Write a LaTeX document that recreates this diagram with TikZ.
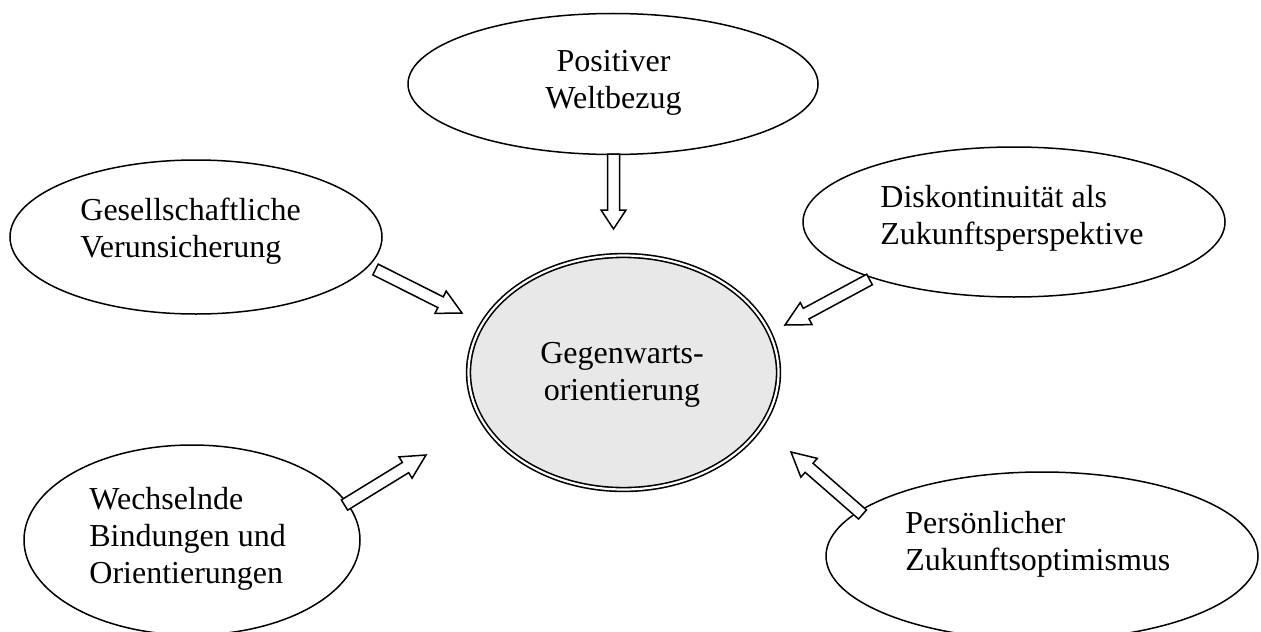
\documentclass[tikz,border=0pt]{standalone}
\usepackage{fontspec}
\setmainfont{Liberation Serif}
\usetikzlibrary{shapes.geometric,calc}

\tikzset{
  bubble/.style={ellipse, draw, line width=0.75pt, fill=white, inner sep=0pt},
  core/.style={ellipse, draw, line width=0.8pt, double=white, double distance=1.1pt,
               fill=black!9, inner sep=0pt},
  lbl/.style={inner sep=0pt, font=\fontsize{16}{18.5}\selectfont},
  arrowbody/.style={draw, line width=0.75pt, fill=white, line join=miter},
}

% hollow block arrow from tail coordinate #2 to tip coordinate #3, head length #1
\newcommand\hollowarrow[3][11pt]{%
  \coordinate (#2-base) at ($(#3)!#1!(#2)$);
  \draw[arrowbody]
    ($(#2)!3pt!90:(#3)$) -- ($(#2-base)!3pt!90:(#3)$) -- ($(#2-base)!6.25pt!90:(#3)$)
    -- (#3)
    -- ($(#2-base)!6.25pt!-90:(#3)$) -- ($(#2-base)!3pt!-90:(#3)$) -- ($(#2)!3pt!-90:(#3)$)
    -- cycle;}

\begin{document}
\begin{tikzpicture}[x=0.5pt,y=-0.5pt]
\useasboundingbox (0,0) rectangle (1261,631);
\clip (0,0) rectangle (1261,631);

% outer ellipses
\node[bubble, minimum width=205pt, minimum height=70.5pt] (welt) at (613,84) {};
\node[bubble, minimum width=186pt, minimum height=77pt] (gesell) at (196,237) {};
\node[bubble, minimum width=211pt, minimum height=75pt] (disk) at (1014,222) {};
\node[bubble, minimum width=168pt, minimum height=95pt] (wechsel) at (192,540) {};
\node[bubble, minimum width=216pt, minimum height=84pt] (optim) at (1042,556) {};

% central ellipse
\node[core, minimum width=155pt, minimum height=117pt] (gegen) at (623.5,372.5) {};

% labels
\node[lbl, align=center, anchor=north] (weltT) at (613.5,45.1) {\strut Positiver\\\strut Weltbezug};
\node[lbl, align=left, anchor=north west] (gesellT) at (80,194.1) {\strut Gesellschaftliche\\\strut Verunsicherung};
\node[lbl, align=left, anchor=north west] (diskT) at (880,181.1) {\strut Diskontinuität als\\\strut Zukunftsperspektive};
\node[lbl, align=center, anchor=north] (gegenT) at (622,337.1) {\strut Gegenwarts-\\\strut orientierung};
\node[lbl, align=left, anchor=north west] (wechselT) at (89,483.1) {\strut Wechselnde\\\strut Bindungen und\\\strut Orientierungen};
\node[lbl, align=left, anchor=north west] (optimT) at (905,507.1) {\strut Persönlicher\\\strut Zukunftsoptimismus};

% arrow ends
\coordinate (aW) at (613.5,154);   \coordinate (aWtip) at (613.5,229);
\coordinate (aG) at (375.5,269.5); \coordinate (aGtip) at (462,313);
\coordinate (aB) at (344.5,505);   \coordinate (aBtip) at (426,455);
\coordinate (aO) at (862.5,514.5); \coordinate (aOtip) at (791,452);
\coordinate (aD) at (869.5,279.5); \coordinate (aDtip) at (785,325);

\hollowarrow[9.5pt]{aW}{aWtip}
\hollowarrow[12pt]{aG}{aGtip}
\hollowarrow[12pt]{aB}{aBtip}
\hollowarrow[12pt]{aO}{aOtip}
\hollowarrow[12pt]{aD}{aDtip}
\end{tikzpicture}
\end{document}
